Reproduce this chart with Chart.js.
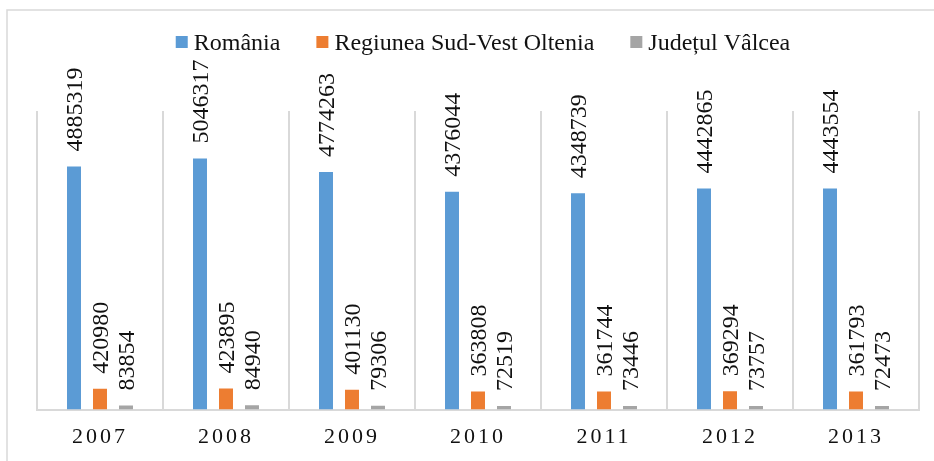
<!DOCTYPE html>
<html>
<head>
<meta charset="utf-8">
<title>România / Sud-Vest Oltenia / Vâlcea</title>
<script src="https://cdn.jsdelivr.net/npm/chart.js@4.4.1/dist/chart.umd.min.js"></script>
<style>
  html, body { margin: 0; padding: 0; background: #ffffff; }
  #wrap { position: relative; width: 934px; height: 461px; }
</style>
</head>
<body>
<div id="wrap"><canvas id="chart"></canvas></div>
<script>
// ------------------------------- Data ---------------------------------------
const years = ['2007', '2008', '2009', '2010', '2011', '2012', '2013'];
const romania = [4885319, 5046317, 4774263, 4376044, 4348739, 4442865, 4443554];
const sudVestOltenia = [420980, 423895, 401130, 363808, 361744, 369294, 361793];
const judetulValcea = [83854, 84940, 79306, 72519, 73446, 73757, 72473];
const seriesNames = ['România', 'Regiunea Sud-Vest Oltenia', 'Județul Vâlcea'];
const yMax = 6000000;

// ------------------------------ Styles --------------------------------------
const COL = {
  blue: '#5b9bd5',
  orange: '#ed7d31',
  gray: '#a5a5a5',
  line: '#d9d9d9',
  text: '#111111',
};
const SERIF = '"Liberation Serif", "Times New Roman", serif';

// outer frame (only left + top edges are visible in the picture)
const framePlugin = {
  id: 'frame',
  beforeDraw(chart) {
    const ctx = chart.ctx;
    ctx.save();
    ctx.strokeStyle = COL.line;
    ctx.lineWidth = 1.5;
    ctx.beginPath();
    ctx.moveTo(7, chart.height);
    ctx.lineTo(7, 10);
    ctx.lineTo(chart.width, 10);
    ctx.stroke();
    ctx.restore();
    // spaced-out year labels on the x axis
    ctx.letterSpacing = '3px';
  },
  beforeDatasetsDraw(chart) {
    chart.ctx.letterSpacing = '0px';
  },
};

// vertical value labels above every bar
const valueLabels = {
  id: 'valueLabels',
  afterDatasetsDraw(chart) {
    const ctx = chart.ctx;
    ctx.save();
    ctx.letterSpacing = '0px';
    ctx.font = '24px ' + SERIF;
    ctx.fillStyle = COL.text;
    ctx.textAlign = 'left';
    ctx.textBaseline = 'alphabetic';
    chart.data.datasets.forEach((ds, i) => {
      const meta = chart.getDatasetMeta(i);
      meta.data.forEach((bar, j) => {
        ctx.save();
        ctx.translate(bar.x, bar.y - 15);
        ctx.rotate(-Math.PI / 2);
        ctx.fillText(String(ds.data[j]), 0, 8);
        ctx.restore();
      });
    });
    ctx.restore();
  },
};

// legend drawn by hand so box/text spacing matches the original
const legendPlugin = {
  id: 'customLegend',
  afterDraw(chart) {
    const ctx = chart.ctx;
    ctx.save();
    ctx.letterSpacing = '0px';
    ctx.font = '24px ' + SERIF;
    ctx.textBaseline = 'alphabetic';
    ctx.textAlign = 'left';
    const box = 12, boxGap = 6, itemGap = 36, cy = 42;
    const widths = chart.data.datasets.map((ds) => ctx.measureText(ds.label).width);
    const total = widths.reduce((a, w) => a + box + boxGap + w, 0) + itemGap * (widths.length - 1);
    let x = 483 - total / 2;
    chart.data.datasets.forEach((ds, i) => {
      ctx.fillStyle = ds.backgroundColor;
      ctx.fillRect(x, cy - box / 2, box, box);
      ctx.fillStyle = COL.text;
      ctx.fillText(ds.label, x + box + boxGap, cy + 8);
      x += box + boxGap + widths[i] + itemGap;
    });
    ctx.restore();
  },
};

const barOpts = { borderWidth: 0, categoryPercentage: 0.619, barPercentage: 0.538 };

new Chart(document.getElementById('chart'), {
  type: 'bar',
  data: {
    labels: years,
    datasets: [
      { label: seriesNames[0], data: romania, backgroundColor: COL.blue, ...barOpts },
      { label: seriesNames[1], data: sudVestOltenia, backgroundColor: COL.orange, ...barOpts },
      { label: seriesNames[2], data: judetulValcea, backgroundColor: COL.gray, ...barOpts },
    ],
  },
  options: {
    responsive: true,
    maintainAspectRatio: false,
    animation: false,
    layout: { padding: { left: 37, top: 111, right: 15, bottom: -3 } },
    scales: {
      x: {
        offset: true,
        grid: { display: true, offset: true, color: COL.line, lineWidth: 2, drawTicks: false },
        border: { display: true, color: COL.line, width: 2 },
        ticks: {
          color: COL.text,
          padding: 14,
          maxRotation: 0,
          font: { family: SERIF, size: 22 },
        },
      },
      y: { display: false, min: 0, max: yMax },
    },
    plugins: {
      legend: { display: false },
      tooltip: { enabled: false },
    },
  },
  plugins: [framePlugin, valueLabels, legendPlugin],
});
</script>
</body>
</html>
